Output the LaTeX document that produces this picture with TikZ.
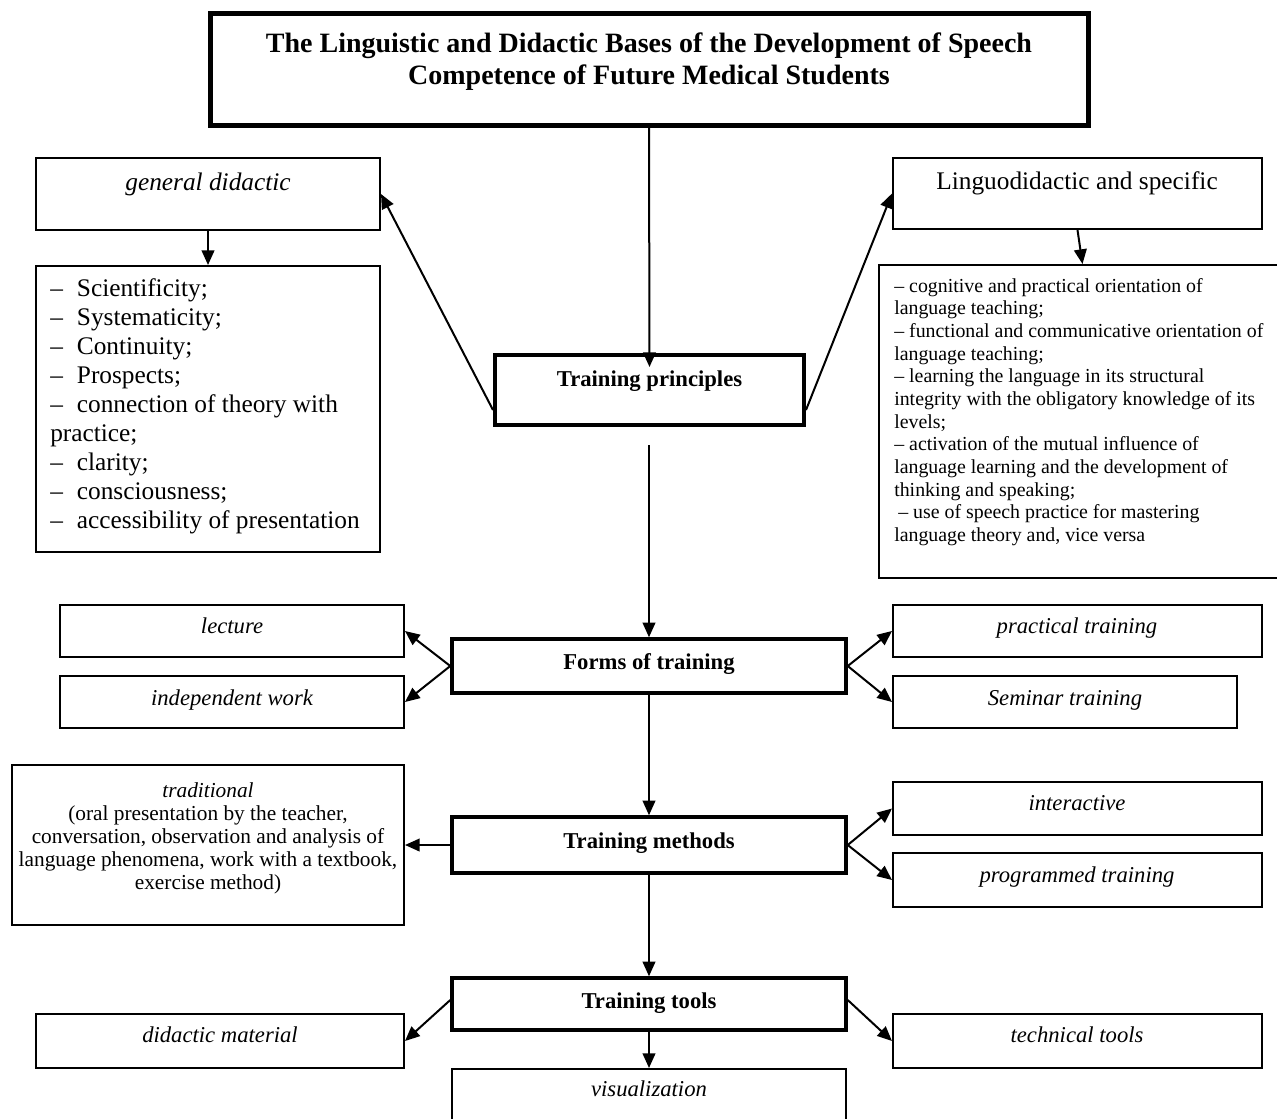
\documentclass[tikz,border=0pt]{standalone}
\usepackage{fontspec}
\setmainfont{Liberation Serif}
\usetikzlibrary{arrows.meta,fit,calc}
\newcommand\dsh{\makebox[20pt][l]{–}}
\begin{document}
\begin{tikzpicture}[x=0.75pt,y=-0.75pt,
  box/.style={draw, line width=1.5pt, inner sep=0pt},
  tbox/.style={draw, line width=2.6pt, inner sep=0pt},
  lab/.style={anchor=base, inner sep=0pt, font=\fontsize{17pt}{20pt}\selectfont\itshape},
  lab19/.style={anchor=base, inner sep=0pt, font=\fontsize{19pt}{22pt}\selectfont},
  hd/.style={anchor=base, inner sep=0pt, font=\fontsize{17pt}{20pt}\selectfont\bfseries},
  arr/.style={line width=1.5pt, -{Triangle[length=11pt,width=9.5pt]}},
  ln/.style={line width=1.5pt}]
\useasboundingbox (0,0) rectangle (1277,1118);
\fill[white] (0,0) rectangle (1277,1118);

% title
\node[draw, line width=3.75pt, inner sep=0pt, fit={(210,13)(1088,125)}] (title) {};
\node[anchor=north, align=center, inner sep=0pt, font=\fontsize{21pt}{23.5pt}\selectfont\bfseries] (titlet) at (649,33)
  {The Linguistic and Didactic Bases of the Development of Speech\\Competence of Future Medical Students};

% principles level
\node[box, fit={(36,158)(380,230)}] (gd) {};
\node[lab19, font=\fontsize{19pt}{22pt}\selectfont\itshape] (gdt) at (208,190) {general didactic};
\node[box, fit={(36,266)(380,552)}] (gdlb) {};
\node[anchor=north west, align=left, inner sep=0pt, font=\fontsize{19pt}{21.75pt}\selectfont] (gdl) at (50,278)
  {\dsh Scientificity;\\ \dsh Systematicity;\\ \dsh Continuity;\\ \dsh Prospects;\\ \dsh connection of theory with\\ practice;\\ \dsh clarity;\\ \dsh consciousness;\\ \dsh accessibility of presentation};

\node[box, fit={(893,158)(1262,229)}] (ld) {};
\node[lab19] (ldt) at (1077,189) {Linguodidactic and specific};
\node[box, fit={(879,265)(1282,578)}] (rlb) {};
\node[anchor=north west, align=left, inner sep=0pt, font=\fontsize{14.9pt}{17pt}\selectfont] (rl) at (894,278)
  {– cognitive and practical orientation of\\ language teaching;\\ – functional and communicative orientation of\\ language teaching;\\ – learning the language in its structural\\ integrity with the obligatory knowledge of its\\ levels;\\ – activation of the mutual influence of\\ language learning and the development of\\ thinking and speaking;\\ \hspace*{3pt}– use of speech practice for mastering\\ language theory and, vice versa};

\node[draw, line width=3pt, inner sep=0pt, fit={(495,355)(804,425)}] (tp) {};
\node[hd] (tpt) at (649.5,386) {Training principles};

% forms
\node[tbox, fit={(452,639)(846,693)}] (fo) {};
\node[hd] (fot) at (649,669) {Forms of training};
\node[box, fit={(60,605)(404,657)}] (lec) {};
\node[lab] (lect) at (232,633) {lecture};
\node[box, fit={(60,676)(404,728)}] (ind) {};
\node[lab] (indt) at (232,705) {independent work};
\node[box, fit={(893,605)(1262,657)}] (pr) {};
\node[lab] (prt) at (1077,633) {practical training};
\node[box, fit={(893,676)(1237,728)}] (se) {};
\node[lab] (set) at (1065,705) {Seminar training};

% methods
\node[tbox, fit={(452,817)(846,873)}] (me) {};
\node[hd] (met) at (649,848) {Training methods};
\node[box, fit={(12,765)(404,925)}] (tr) {};
\node[anchor=north, align=center, inner sep=0pt, font=\fontsize{16pt}{17.25pt}\selectfont] (trt) at (208,782)
  {\textit{traditional}\\(oral presentation by the teacher,\\conversation, observation and analysis of\\language phenomena, work with a textbook,\\exercise method)};
\node[box, fit={(893,782)(1262,835)}] (in) {};
\node[lab] (int) at (1077,810) {interactive};
\node[box, fit={(893,853)(1262,907)}] (pg) {};
\node[lab] (pgt) at (1077,882) {programmed training};

% tools
\node[tbox, fit={(452,978)(846,1030)}] (tt) {};
\node[hd] (ttt) at (649,1008) {Training tools};
\node[box, fit={(36,1014)(404,1068)}] (dm) {};
\node[lab] (dmt) at (220,1042) {didactic material};
\node[box, fit={(893,1014)(1262,1068)}] (tc) {};
\node[lab] (tct) at (1077,1042) {technical tools};
\node[box, fit={(452,1069)(846,1125)}] (vi) {};
\node[lab] (vit) at (649,1096) {visualization};

% connectors
\draw[arr] (title.south) -- ($(tp.north)+(0,14)$);
\draw[arr] ($(tp.south west)+(0,-17)$) -- (gd.east);
\draw[arr] ($(tp.south east)+(0,-17)$) -- (ld.west);
\draw[arr] (gd.south) -- (gdlb.north);
\draw[arr] (ld.south) -- ($(rlb.north)+(2,0)$);
\coordinate (tpbelow) at (649,445);
\draw[arr] (tpbelow) -- (fo.north);
\draw[arr] (fo.west) -- (lec.east);
\draw[arr] (fo.west) -- (ind.east);
\draw[arr] (fo.east) -- (pr.west);
\draw[arr] (fo.east) -- (se.west);
\draw[arr] (fo.south) -- (me.north);
\draw[arr] (me.west) -- (tr.east);
\draw[arr] (me.east) -- (in.west);
\draw[arr] (me.east) -- (pg.west);
\draw[arr] (me.south) -- (tt.north);
\draw[arr] ($(tt.west)+(0,-4)$) -- (dm.east);
\draw[arr] ($(tt.east)+(0,-4)$) -- (tc.west);
\draw[arr] (tt.south) -- (vi.north);
\end{tikzpicture}
\end{document}
